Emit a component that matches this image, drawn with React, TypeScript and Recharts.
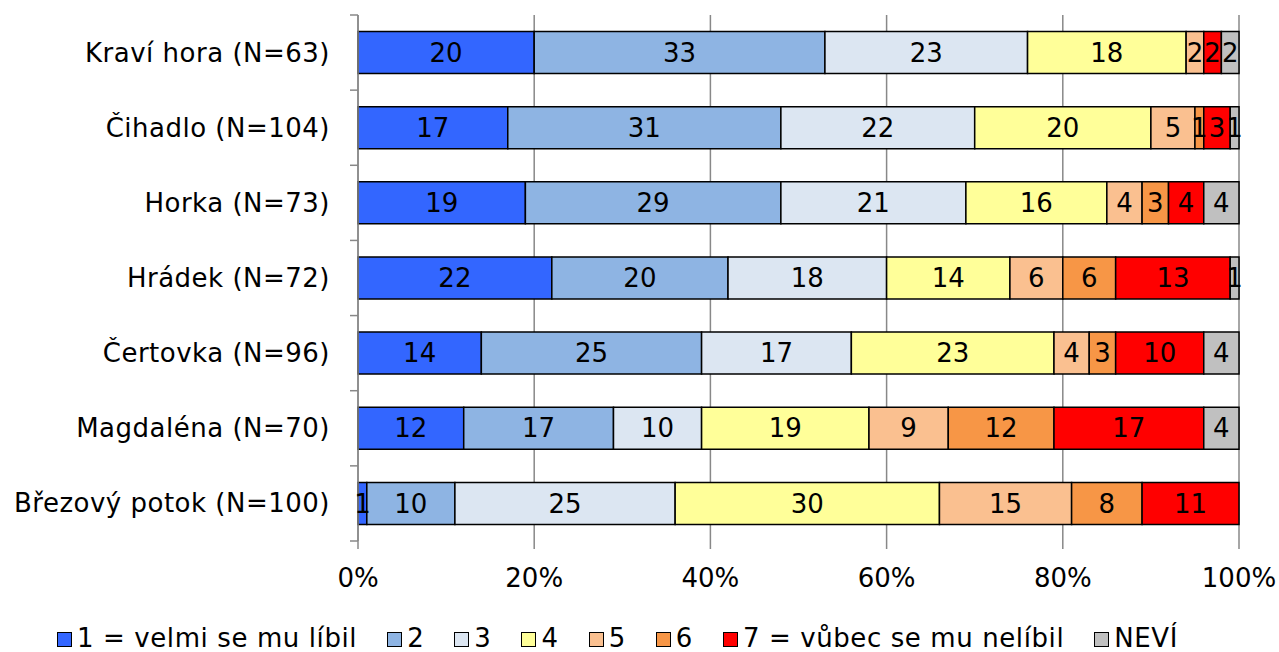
import { BarChart, Bar, XAxis, YAxis, CartesianGrid, LabelList, Legend } from "recharts";

const sites = [
  "Kraví hora (N=63)",
  "Čihadlo (N=104)",
  "Horka (N=73)",
  "Hrádek (N=72)",
  "Čertovka (N=96)",
  "Magdaléna (N=70)",
  "Březový potok (N=100)",
];

const s1 = [20, 17, 19, 22, 14, 12, 1];
const s2 = [33, 31, 29, 20, 25, 17, 10];
const s3 = [23, 22, 21, 18, 17, 10, 25];
const s4 = [18, 20, 16, 14, 23, 19, 30];
const s5 = [2, 5, 4, 6, 4, 9, 15];
const s6 = [0, 1, 3, 6, 3, 12, 8];
const s7 = [2, 3, 4, 13, 10, 17, 11];
const sNevi = [2, 1, 4, 1, 4, 4, 0];

const seriesNames = ["1 = velmi se mu líbil", "2", "3", "4", "5", "6", "7 = vůbec se mu nelíbil", "NEVÍ"];
const seriesKeys = ["r1", "r2", "r3", "r4", "r5", "r6", "r7", "nevi"];
const seriesColors = ["#3366FF", "#8EB4E3", "#DCE6F2", "#FFFF99", "#FAC090", "#F79646", "#FF0000", "#C0C0C0"];
const xTicks = [0, 20, 40, 60, 80, 100];

const allSeries = [s1, s2, s3, s4, s5, s6, s7, sNevi];

const data = sites.map((name, i) => {
  const row: Record<string, string | number> = { name };
  seriesKeys.forEach((k, j) => {
    row[k] = allSeries[j][i];
  });
  return row;
});

const FONT = "DejaVu Sans";
const FS = 26;
const TOP = 15;
const BOTTOM = 541;
const band = (BOTTOM - TOP) / sites.length;

const CatTick = (props: any) => {
  const { x, y, payload, index } = props;
  return (
    <g>
      <text
        x={x - 28}
        y={y}
        textAnchor="end"
        dominantBaseline="central"
        fontFamily={FONT}
        fontSize={FS}
        letterSpacing={0.5}
        fill="#000"
      >
        {payload.value}
      </text>
      <line x1={x - 8} x2={x} y1={y - band / 2} y2={y - band / 2} stroke="#888" strokeWidth={1.5} />
      {index === sites.length - 1 && (
        <line x1={x - 8} x2={x} y1={y + band / 2} y2={y + band / 2} stroke="#888" strokeWidth={1.5} />
      )}
    </g>
  );
};

const LegendBox = () => (
  <div
    style={{
      display: "flex",
      justifyContent: "flex-start",
      paddingLeft: 57,
      gap: 30,
      height: 28,
      lineHeight: "28px",
      fontFamily: FONT,
      fontSize: FS,
      letterSpacing: 0.6,
      color: "#000",
      whiteSpace: "nowrap",
    }}
  >
    {seriesNames.map((n, i) => (
      <div key={n} style={{ display: "flex", alignItems: "center" }}>
        <span
          style={{
            display: "inline-block",
            width: 13,
            height: 13,
            background: seriesColors[i],
            border: "1px solid #000",
            marginRight: 5,
            marginTop: 3,
          }}
        />
        {n}
      </div>
    ))}
  </div>
);

export default function App() {
  return (
    <div style={{ position: "absolute", left: 0, top: 0 }}>
      <BarChart
        width={1279}
        height={652}
        data={data}
        layout="vertical"
        stackOffset="expand"
        barCategoryGap="22%"
        margin={{ top: TOP, right: 40, left: 0, bottom: 0 }}
      >
        <CartesianGrid horizontal={false} stroke="#888" strokeWidth={1.5} />
        <XAxis
          type="number"
          domain={[0, 1]}
          ticks={xTicks.map((t) => t / 100)}
          tickFormatter={(v: number) => `${Math.round(v * 100)}%`}
          axisLine={false}
          tickLine={{ stroke: "#888", strokeWidth: 1.5 }}
          tickSize={8}
          tickMargin={20}
          height={83}
          tick={{ fontFamily: FONT, fontSize: FS, fill: "#000" }}
          interval={0}
        />
        <YAxis
          type="category"
          dataKey="name"
          width={358}
          axisLine={{ stroke: "#888", strokeWidth: 1.5 }}
          tickLine={false}
          tickSize={0}
          tickMargin={0}
          tick={<CatTick />}
          interval={0}
        />
        <Legend verticalAlign="bottom" content={<LegendBox />} wrapperStyle={{ bottom: 0, left: 0, width: 1279, height: 28 }} />
        {seriesKeys.map((k, i) => (
          <Bar
            key={k}
            dataKey={k}
            name={seriesNames[i]}
            stackId="a"
            fill={seriesColors[i]}
            stroke="#000"
            strokeWidth={1.5}
            isAnimationActive={false}
          >
            <LabelList
              dataKey={k}
              position="center"
              fill="#000"
              fontFamily={FONT}
              fontSize={FS}
              formatter={(v: any) => (v ? String(v) : "")}
            />
          </Bar>
        ))}
      </BarChart>
    </div>
  );
}
